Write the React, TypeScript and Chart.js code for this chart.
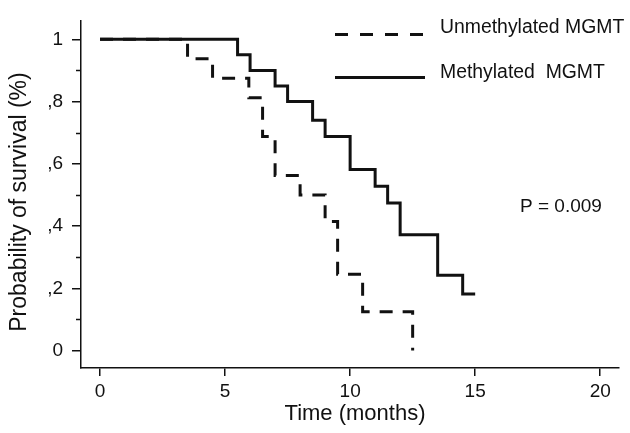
import React, { useEffect, useRef } from 'react';
import { Chart, registerables } from 'chart.js';

Chart.register(...registerables);

// Kaplan-Meier steps
const unmethylatedMonths = [0, 3.5, 4.5, 5.95, 6.5, 7, 8, 9, 9.5, 10.5, 12.5];
const unmethylatedSurvival = [1, 0.9375, 0.875, 0.8125, 0.6875, 0.5625, 0.5, 0.415, 0.245, 0.125, 0];

const methylatedMonths = [0, 5.5, 6, 7, 7.5, 8.5, 9, 10, 11, 11.5, 12, 13.5, 14.5, 15];
const methylatedSurvival = [1, 0.95, 0.9, 0.85, 0.8, 0.74, 0.688, 0.582, 0.528, 0.474, 0.372, 0.242, 0.182, 0.182];

const xTicks = [0, 5, 10, 15, 20];
const yTicks = [0, 0.2, 0.4, 0.6, 0.8, 1];
const yTickLabels = ['0', ',2', ',4', ',6', ',8', '1'];
const yMinorTicks = [0.1, 0.3, 0.5, 0.7, 0.9];

const seriesLabels = ['Unmethylated MGMT', 'Methylated  MGMT'];
const xTitle = 'Time (months)';
const yTitle = 'Probability of survival (%)';
const pValueText = 'P = 0.009';

const FONT = '"Liberation Sans", Arial, Helvetica, sans-serif';
const INK = '#111111';

const overlayPlugin = {
  id: 'overlay',
  afterDraw(chart: any) {
    const ctx = chart.ctx as CanvasRenderingContext2D;
    const yScale = chart.scales.y;
    const area = chart.chartArea;
    ctx.save();
    // minor ticks on y axis
    ctx.strokeStyle = INK;
    ctx.lineWidth = 1.5;
    yMinorTicks.forEach((v) => {
      const py = Math.round(yScale.getPixelForValue(v)) + 0.5;
      ctx.beginPath();
      ctx.moveTo(area.left - 5, py);
      ctx.lineTo(area.left, py);
      ctx.stroke();
    });

    // legend
    ctx.lineWidth = 3;
    ctx.setLineDash([13, 12]);
    ctx.beginPath();
    ctx.moveTo(335, 34.5);
    ctx.lineTo(425, 34.5);
    ctx.stroke();
    ctx.setLineDash([]);
    ctx.beginPath();
    ctx.moveTo(335, 77.5);
    ctx.lineTo(425, 77.5);
    ctx.stroke();

    ctx.fillStyle = INK;
    ctx.font = `19.4px ${FONT}`;
    ctx.textAlign = 'left';
    ctx.textBaseline = 'middle';
    ctx.fillText(seriesLabels[0], 440, 28);
    ctx.fillText(seriesLabels[1], 440, 73);
    ctx.font = `19px ${FONT}`;
    ctx.fillText(pValueText, 520, 207);

    // axis titles
    ctx.font = `22px ${FONT}`;
    ctx.textAlign = 'center';
    ctx.fillText(xTitle, 355, 414);
    ctx.font = `23px ${FONT}`;
    ctx.translate(20, 202);
    ctx.rotate(-Math.PI / 2);
    ctx.fillText(yTitle, 0, 0);
    ctx.restore();
  },
};

export default function App() {
  const canvasRef = useRef<HTMLCanvasElement | null>(null);

  useEffect(() => {
    if (!canvasRef.current) return;
    const chart = new Chart(canvasRef.current, {
      type: 'scatter',
      data: {
        datasets: [
          {
            label: seriesLabels[0],
            data: unmethylatedMonths.map((m, i) => ({ x: m, y: unmethylatedSurvival[i] })),
            showLine: true,
            stepped: 'before',
            borderColor: INK,
            borderWidth: 3,
            borderDash: [13, 10],
            pointRadius: 0,
            fill: false,
            order: 1,
          },
          {
            label: seriesLabels[1],
            data: methylatedMonths.map((m, i) => ({ x: m, y: methylatedSurvival[i] })),
            showLine: true,
            stepped: 'before',
            borderColor: INK,
            borderWidth: 3,
            pointRadius: 0,
            fill: false,
            order: 0,
          },
        ],
      },
      options: {
        animation: false,
        responsive: true,
        maintainAspectRatio: false,
        layout: { padding: { top: 9, right: 11, left: 0, bottom: 0 } },
        plugins: {
          legend: { display: false },
          tooltip: { enabled: false },
        },
        scales: {
          x: {
            type: 'linear',
            min: -0.76,
            max: 20.75,
            afterBuildTicks: (s: any) => {
              s.ticks = xTicks.map((v) => ({ value: v }));
            },
            afterFit: (s: any) => {
              s.height = 65;
            },
            grid: { drawOnChartArea: false, drawTicks: true, tickLength: 8, color: INK, lineWidth: 1.5 },
            border: { display: true, color: INK, width: 1.5 },
            ticks: {
              font: { family: FONT, size: 19 },
              color: INK,
              padding: 4,
              maxRotation: 0,
              autoSkip: false,
            },
          },
          y: {
            type: 'linear',
            min: -0.056,
            max: 1.0607,
            afterBuildTicks: (s: any) => {
              s.ticks = yTicks.map((v) => ({ value: v }));
            },
            afterFit: (s: any) => {
              s.width = 81;
            },
            grid: { drawOnChartArea: false, drawTicks: true, tickLength: 9, color: INK, lineWidth: 1.5 },
            border: { display: true, color: INK, width: 1.5 },
            ticks: {
              font: { family: FONT, size: 19 },
              color: INK,
              padding: 9,
              autoSkip: false,
              callback: (value: any) => {
                const idx = yTicks.findIndex((t) => Math.abs(t - Number(value)) < 1e-6);
                return idx >= 0 ? yTickLabels[idx] : '';
              },
            },
          },
        },
      },
      plugins: [overlayPlugin],
    } as any);
    return () => chart.destroy();
  }, []);

  return (
    <div style={{ position: 'absolute', left: 0, top: 0, width: 630, height: 433, background: '#fff' }}>
      <canvas ref={canvasRef} />
    </div>
  );
}
